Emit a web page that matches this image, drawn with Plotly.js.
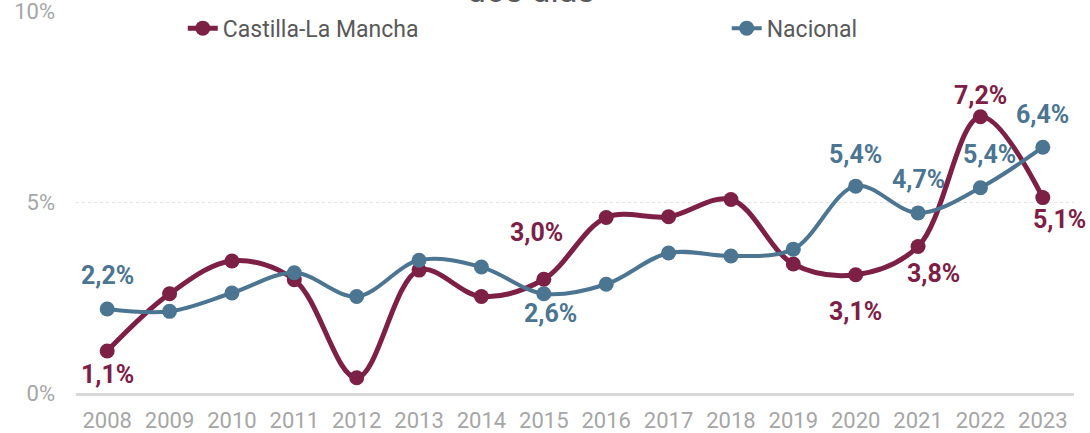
<!DOCTYPE html>
<html>
<head>
<meta charset="utf-8">
<script src="https://cdn.plot.ly/plotly-3.0.1.min.js"></script>
<style>html,body{margin:0;padding:0;background:#fff;}#chart{width:1090px;height:433px;}</style>
</head>
<body>
<div id="chart"></div>
<script>
// ---- data ----
const years = ['2008','2009','2010','2011','2012','2013','2014','2015','2016','2017','2018','2019','2020','2021','2022','2023'];
const clmValues = [1.1, 2.6, 3.46, 2.97, 0.4, 3.22, 2.53, 2.98, 4.6, 4.62, 5.07, 3.38, 3.1, 3.84, 7.24, 5.12];
const nacValues = [2.2, 2.14, 2.62, 3.15, 2.53, 3.48, 3.3, 2.6, 2.85, 3.67, 3.59, 3.77, 5.42, 4.72, 5.38, 6.44];
const seriesNames = ['Castilla-La Mancha', 'Nacional'];
const labelYears = ['2008','2015','2020','2021','2022','2023'];
const titleText = 'dos días';
const yTickVals = [0, 5, 10];
const yTickText = ['0%', '5%', '10%'];

// ---- styles ----
const clmColor = '#7D2046';
const nacColor = '#4B7590';
const fontFam = 'Roboto, "Open Sans", sans-serif';
// label offsets (pixels) per labelled year: [dx, dy]
const clmLabelOffsets = [[0,23],[-7,-47],[0,37],[15,27],[0,-21],[17,22]];
const nacLabelOffsets = [[0,-34],[7,20],[0,-32],[0,-33],[9,-33],[0,-33]];

function fmt(v){ return v.toFixed(1).replace('.', ',') + '%'; }

const traces = [
  {x: years, y: clmValues, name: seriesNames[0], type: 'scatter', mode: 'lines+markers',
   line: {color: clmColor, width: 5, shape: 'spline', smoothing: 1},
   marker: {color: clmColor, size: 15}, cliponaxis: false, hoverinfo: 'skip', legend: 'legend'},
  {x: years, y: nacValues, name: seriesNames[1], type: 'scatter', mode: 'lines+markers',
   line: {color: nacColor, width: 4, shape: 'spline', smoothing: 1},
   marker: {color: nacColor, size: 15}, cliponaxis: false, hoverinfo: 'skip', legend: 'legend2'}
];

const annotations = [];
labelYears.forEach((yr, i) => {
  const k = years.indexOf(yr);
  annotations.push({x: k, y: clmValues[k], xref: 'x', yref: 'y', text: fmt(clmValues[k]),
    showarrow: false, xshift: clmLabelOffsets[i][0], yshift: -clmLabelOffsets[i][1],
    font: {family: fontFam, size: 25, color: clmColor, weight: 'bold'}});
  annotations.push({x: k, y: nacValues[k], xref: 'x', yref: 'y', text: fmt(nacValues[k]),
    showarrow: false, xshift: nacLabelOffsets[i][0], yshift: -nacLabelOffsets[i][1],
    font: {family: fontFam, size: 25, color: nacColor, weight: 'bold'}});
});

const legendFont = {family: fontFam, size: 23, color: '#595959'};
const layout = {
  width: 1090, height: 433,
  margin: {l: 76, r: 16, t: 7, b: 40},
  paper_bgcolor: '#fff', plot_bgcolor: '#fff',
  title: {text: titleText, x: 0.487, xanchor: 'center', y: 1 - 2/433, yanchor: 'bottom',
    font: {family: fontFam, size: 34, color: '#595959'}},
  showlegend: true,
  legend: {orientation: 'h', x: 0.107, xanchor: 'left', y: 0.955, yanchor: 'middle',
    bgcolor: 'rgba(0,0,0,0)', font: legendFont},
  legend2: {orientation: 'h', x: 0.652, xanchor: 'left', y: 0.955, yanchor: 'middle',
    bgcolor: 'rgba(0,0,0,0)', font: legendFont},
  xaxis: {type: 'category', range: [-0.5, 15.5], showgrid: false, zeroline: false, automargin: false,
    showline: true, linecolor: '#d9d9d9', linewidth: 3, ticks: '', ticklabelstandoff: 6,
    tickfont: {family: fontFam, size: 22, color: '#a6a6a6'}, fixedrange: true},
  yaxis: {range: [0, 10.01], tickvals: yTickVals, ticktext: yTickText, showgrid: true, automargin: false,
    gridcolor: '#e3e3e3', gridwidth: 1, griddash: 'dot', zeroline: false, showline: false,
    ticks: '', ticklabelstandoff: 20, ticklabeloverflow: 'allow',
    tickfont: {family: fontFam, size: 22, color: '#a6a6a6'}, fixedrange: true},
  annotations: annotations
};

Plotly.newPlot('chart', traces, layout, {displayModeBar: false, staticPlot: true});
</script>
</body>
</html>
